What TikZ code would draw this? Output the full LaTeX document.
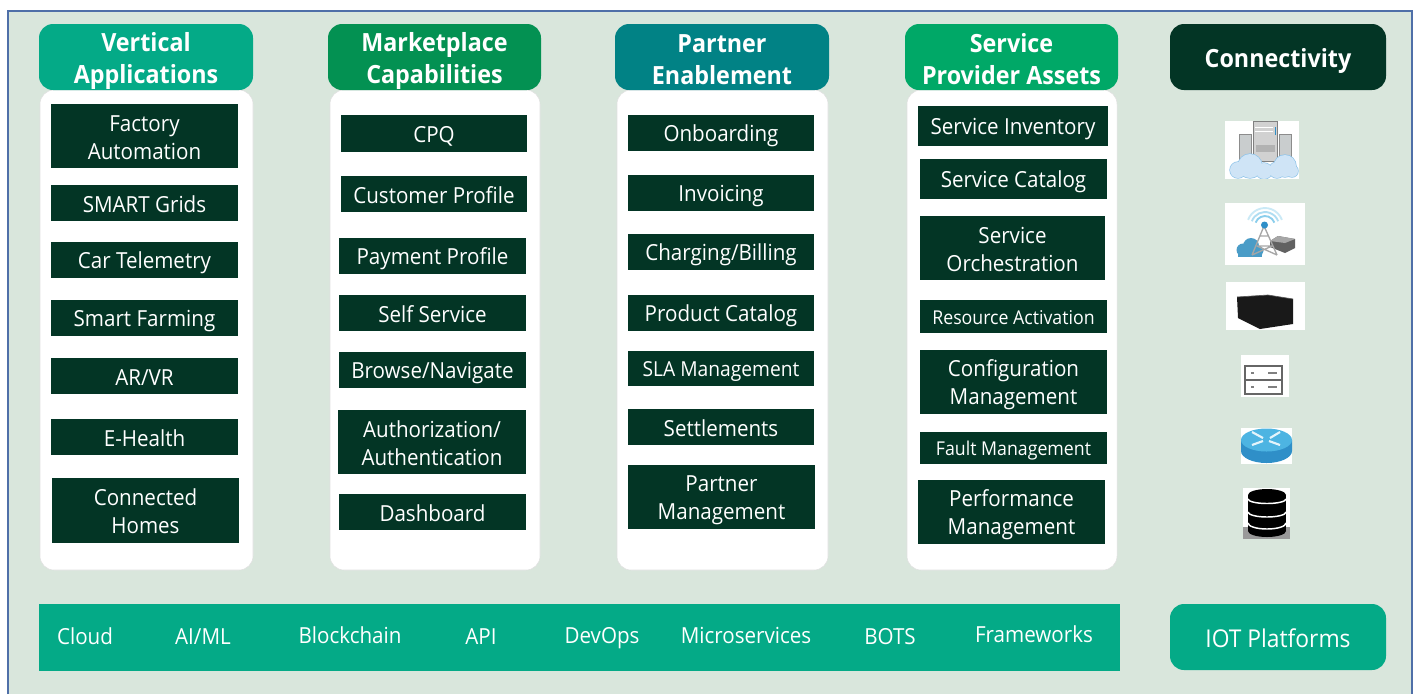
\documentclass[tikz,border=0pt]{standalone}
\usepackage{fontspec}
\setmainfont[FakeStretch=0.93]{Open Sans}
\definecolor{bgc}{HTML}{D9E6DC}
\definecolor{framec}{HTML}{4F6FA8}
\definecolor{tealc}{HTML}{04AA87}
\definecolor{mktc}{HTML}{039152}
\definecolor{partc}{HTML}{018285}
\definecolor{svcc}{HTML}{00A867}
\definecolor{darkc}{HTML}{033525}
\definecolor{cloudc}{HTML}{CFE4F6}
\definecolor{cloude}{HTML}{8FC4EA}
\definecolor{towerc}{HTML}{C9CDCE}
\definecolor{blu}{HTML}{4DB4E2}
\definecolor{bluside}{HTML}{2F8FC8}
\definecolor{cloudd}{HTML}{4A9CC7}
\newcommand{\strutH}{1.2em}
\newcommand{\capstrut}{\rule[-.19em]{0pt}{\strutH}}
\newcommand{\tailstrut}{\rule[-.19em]{0pt}{.5em}}
\newcommand{\nbox}[7][item]{%
  \pgfmathsetlengthmacro{\bw}{(#4-#2)*0.75pt}%
  \pgfmathsetlengthmacro{\bh}{(#5-#3)*0.75pt}%
  \node[#1,minimum width=\bw,minimum height=\bh] (#6) at ({(#2+#4)/2},{(#3+#5)/2}) {\capstrut#7\tailstrut};}
\tikzset{
  item/.style={fill=darkc,draw=none,text=white,inner sep=0pt,align=center,
    font=\fontsize{16.6}{21}\selectfont},
  small/.style={item,font=\fontsize{14.3}{18}\selectfont},
  mid/.style={item,font=\fontsize{15.5}{18}\selectfont},
  head/.style={rounded corners=10.5pt,text=white,inner sep=0pt,align=center,
    font=\def\strutH{1.3em}\fontsize{18.8}{24}\selectfont\bfseries},
  panel/.style={rounded corners=10.5pt,fill=white,draw=black!12,line width=0.4pt,inner sep=0pt},
  band/.style={text=white,inner sep=0pt,anchor=base,font=\fontsize{16.6}{21}\selectfont},
  iconbg/.style={fill=white,draw=none},
}
\begin{document}
\begin{tikzpicture}[x=0.75pt,y=-0.75pt]
\useasboundingbox (0,0) rectangle (1416,694);
\fill[white] (0,0) rectangle (1416,694);
\path[fill=bgc] (8,11) rectangle (1412,694);
\draw[framec,line width=1.2pt] (8,694) -- (8,11) -- (1412,11) -- (1412,694);

% panels
\nbox[panel]{40}{90}{253}{570}{panelA}{}
\nbox[panel]{330}{90}{540}{570}{panelB}{}
\nbox[panel]{617}{90}{828}{570}{panelC}{}
\nbox[panel]{907}{90}{1117}{570}{panelD}{}

% headers
\nbox[head,fill=tealc]{39}{24}{253}{90}{headA}{Vertical\\Applications}
\nbox[head,fill=mktc]{328}{24}{541}{90}{headB}{Marketplace\\Capabilities}
\nbox[head,fill=partc]{615}{24}{829}{90}{headC}{Partner\\Enablement}
\nbox[head,fill=svcc]{905}{24}{1118}{90}{headD}{Service\\Provider Assets}
\nbox[head,fill=darkc]{1170}{24}{1386}{90}{headE}{Connectivity}

% column 1
\nbox{51}{104}{238}{168}{a1}{Factory\\Automation}
\nbox{51}{185}{238}{221}{a2}{SMART Grids}
\nbox{51}{242}{238}{278}{a3}{Car Telemetry}
\nbox{51}{300}{238}{336}{a4}{Smart Farming}
\nbox{51}{358}{238}{394}{a5}{AR/VR}
\nbox{51}{419}{238}{455}{a6}{E-Health}
\nbox{52}{478}{239}{543}{a7}{Connected\\Homes}
% column 2
\nbox{341}{115}{527}{152}{b1}{CPQ}
\nbox{341}{176}{527}{212}{b2}{Customer Profile}
\nbox{339}{238}{526}{274}{b3}{Payment Profile}
\nbox{339}{295}{526}{331}{b4}{Self Service}
\nbox{339}{352}{526}{388}{b5}{Browse/Navigate}
\nbox{338}{410}{526}{474}{b6}{Authorization/\\Authentication}
\nbox{339}{494}{526}{530}{b7}{Dashboard}
% column 3
\nbox{628}{115}{814}{151}{c1}{Onboarding}
\nbox{628}{175}{814}{211}{c2}{Invoicing}
\nbox{628}{234}{814}{270}{c3}{Charging/Billing}
\nbox{628}{295}{814}{331}{c4}{Product Catalog}
\nbox[mid]{628}{351}{814}{386}{c5}{SLA Management}
\nbox{628}{409}{814}{445}{c6}{Settlements}
\nbox{628}{465}{815}{529}{c7}{Partner\\Management}
% column 4
\nbox{918}{106}{1108}{146}{d1}{Service Inventory}
\nbox{920}{159}{1107}{199}{d2}{Service Catalog}
\nbox{920}{216}{1105}{280}{d3}{Service\\Orchestration}
\nbox[small]{920}{300}{1107}{333}{d4}{Resource Activation}
\nbox{920}{350}{1107}{414}{d5}{Configuration\\Management}
\nbox[small]{920}{432}{1107}{464}{d6}{Fault Management}
\nbox{918}{480}{1105}{544}{d7}{Performance\\Management}

% bottom band
\path[fill=tealc] (39,604) rectangle (1120,671);
\node[band] (e1) at (85,644) {Cloud};
\node[band] (e2) at (203,644) {AI/ML};
\node[band] (e3) at (350,643) {Blockchain};
\node[band] (e4) at (481,644) {API};
\node[band] (e5) at (602,643) {DevOps};
\node[band] (e6) at (746,643) {Microservices};
\node[band] (e7) at (890,644) {BOTS};
\node[band] (e8) at (1034,642) {Frameworks};
\nbox[head,fill=tealc,font=\def\strutH{1.2em}\fontsize{18.4}{22}\selectfont]{1170}{604}{1386}{670}{iot}{IOT Platforms}

% icon 1: servers in cloud
\fill[iconbg] (1225,121) rectangle (1299,179);
\filldraw[fill=towerc,draw=black!45,line width=0.5pt] (1239,134) rectangle (1251,162);
\filldraw[fill=towerc,draw=black!45,line width=0.5pt] (1279,134) rectangle (1291,162);
\filldraw[fill=black!18,draw=black!50,line width=0.7pt] (1253,121) rectangle (1277,161);
\fill[black!30] (1256,145) rectangle (1275,152);
\fill[bluside] (1274.5,127) rectangle (1276,135);
\draw[white,line width=0.6pt] (1255,127) -- (1273,127) (1255,131) -- (1273,131);
\begin{scope}
\clip (1225,121) rectangle (1299,178.5);
\foreach \cx/\cy/\r in {1238/170/8,1250/166/12,1264/171/8,1277/170/8,1285/166/11,1292/171/6}{
  \fill[cloude] (\cx,\cy) circle [radius=\r+0.7];}
\foreach \cx/\cy/\r in {1238/170/8,1250/166/12,1264/171/8,1277/170/8,1285/166/11,1292/171/6}{
  \fill[cloudc] (\cx,\cy) circle [radius=\r];}
\end{scope}
% icon 2: antenna
\fill[iconbg] (1225,203) rectangle (1305,265);
\foreach \r/\arccol in {18/blu!30,14/blu!45,10/blu!65}{
  \draw[\arccol,line width=1.4pt] (1265,226) ++(-\r*0.94,-\r*0.34) arc[start angle=200,end angle=340,radius=\r];}
\fill[cloudd] (1243,250) circle [radius=6.5];
\fill[cloudd] (1251,246) circle [radius=8];
\fill[cloudd] (1258,251) circle [radius=5.5];
\fill[cloudd] (1238,250) rectangle (1262,257);
\fill[black!62] (1270,241) -- (1278,236) -- (1295,239) -- (1295,248) -- (1285,253) -- (1270,247) -- cycle;
\fill[black!35] (1270,241) -- (1278,236) -- (1295,239) -- (1285,243) -- cycle;
\draw[black!35,line width=1pt] (1252,255) -- (1264,226) -- (1277,255) (1257,246) -- (1272,246) (1260,236) -- (1268,236) (1252,255) -- (1272,246) (1277,255) -- (1257,246);
\fill[bluside] (1264.5,225) circle [radius=3.5];
% icon 3: black box
\fill[iconbg] (1226,282) rectangle (1305,330);
\fill[black!90] (1237,297) -- (1268,295) -- (1293,299) -- (1293,324) -- (1260,329) -- (1238,318) -- cycle;
\draw[black!65,line width=0.5pt] (1237,297) -- (1268,295) -- (1293,299);
% icon 4: rack
\fill[iconbg] (1241,355) rectangle (1289,397);
\draw[black!60,line width=0.9pt] (1245,366) rectangle (1282,394) (1245,380) -- (1282,380);
\draw[black!50,line width=1.4pt] (1251,373) -- (1254,373) (1268,373) -- (1277,373) (1251,387) -- (1254,387) (1268,387) -- (1277,387);
% icon 5: router
\fill[iconbg] (1241,428) rectangle (1292,464);
\fill[bluside] (1241,440) -- (1241,451) arc[start angle=180,end angle=0,x radius=25.5,y radius=12] -- (1292,440) -- cycle;
\fill[blu] (1266.5,440) circle [x radius=25.5,y radius=11.5];
\draw[white!85!blu,line width=1.6pt] (1252,432) -- (1263,438) (1280,432) -- (1270,438) (1252,445) -- (1263,441) (1269,441) -- (1280,445);
% icon 6: database
\fill[iconbg] (1243,488) rectangle (1290,539);
\fill[black!40] (1243,527) rectangle (1290,539);
\fill[black] (1248,495) rectangle (1286,531);
\fill[black] (1267,495) circle [x radius=19,y radius=6];
\fill[black] (1267,531) circle [x radius=19,y radius=6];
\foreach \y/\h in {499/4.5,512/5,523/6}{
  \draw[white,line width=1.1pt] (1248,\y) arc[start angle=180,end angle=0,x radius=19,y radius=\h];}
\end{tikzpicture}
\end{document}
